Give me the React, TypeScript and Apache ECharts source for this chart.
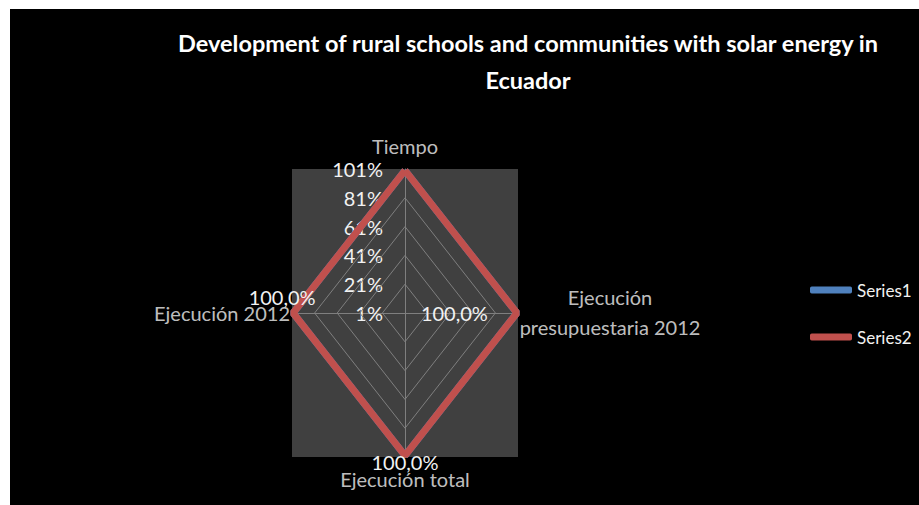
import React, { useEffect, useRef } from "react";
import * as echarts from "echarts";

const titleText = "Development of rural schools and communities with solar energy in\nEcuador";
const indicators = ["Tiempo", "Ejecución\npresupuestaria 2012", "Ejecución total", "Ejecución 2012"];
const seriesNames = ["Series1", "Series2"];
const series1Values = [100, 100, 100, 100];
const series2Values = [100, 100, 100, 100];
const dataLabels = ["", "100,0%", "100,0%", "100,0%"];
const tickValues = [1, 21, 41, 61, 81, 101];

const AXIS_MIN = 1;
const AXIS_MAX = 101;
// directions of the four radar spokes: up, right, down, left
const DIR = [
  [0, 1],
  [1, 0],
  [0, -1],
  [-1, 0],
];
const FONT = "Lato, 'Open Sans', sans-serif";
const TXT = "#f2f2f2";

const toPoint = (i: number, v: number) => [DIR[i][0] * (v - AXIS_MIN), DIR[i][1] * (v - AXIS_MIN)];

export default function App() {
  const ref = useRef<HTMLDivElement>(null);
  useEffect(() => {
    if (!ref.current) return;
    const chart = echarts.init(ref.current, null, { renderer: "svg" });
    const R = AXIS_MAX - AXIS_MIN;

    const ringSeries = tickValues
      .filter((t) => t > AXIS_MIN && t < AXIS_MAX)
      .map((t) => ({
        type: "line",
        silent: true,
        symbol: "none",
        z: 1,
        lineStyle: { color: "#7f7f7f", width: 1 },
        data: [0, 1, 2, 3, 0].map((i) => toPoint(i, t)),
      }));

    const polygon = (vals: number[]) => [0, 1, 2, 3, 0].map((i) => toPoint(i, vals[i]));

    const labelCfg: any[] = [
      { show: false },
      { show: true, position: "left", distance: 29 },
      { show: true, position: "inside", offset: [0, 6] },
      { show: true, position: "inside", offset: [-11, -16] },
    ];

    const s2data = [0, 1, 2, 3, 0].map((i, k) => ({
      value: toPoint(i, series2Values[i]),
      label: k < 4 ? { ...labelCfg[i], formatter: dataLabels[i] } : { show: false },
    }));

    const indLabel: any[] = [
      { position: "top", distance: 13 },
      { position: "inside", offset: [92, -1], lineHeight: 30, align: "center" },
      { position: "bottom", distance: 12 },
      { position: "left", distance: 2 },
    ];
    const indData = indicators.map((name, i) => ({
      value: toPoint(i, AXIS_MAX),
      label: { show: true, formatter: name, ...indLabel[i] },
    }));

    chart.setOption({
      animation: false,
      backgroundColor: "#000000",
      textStyle: { fontFamily: FONT },
      graphic: [
        {
          type: "text",
          x: 518,
          y: 15,
          style: {
            text: titleText,
            fill: "#ffffff",
            font: `bold 23.5px ${FONT}`,
            textAlign: "center",
            lineHeight: 37,
          },
        },
      ],
      legend: {
        orient: "vertical",
        left: 795,
        top: 266,
        itemGap: 27,
        itemWidth: 42,
        itemHeight: 7,
        icon: "roundRect",
        data: seriesNames,
        textStyle: { color: TXT, fontSize: 17, lineHeight: 20, fontFamily: FONT },
      },
      grid: {
        left: 282,
        top: 160,
        width: 226,
        height: 288,
        show: true,
        backgroundColor: "#404040",
        borderWidth: 0,
      },
      xAxis: {
        type: "value",
        min: -R,
        max: R,
        interval: 20,
        axisLine: { show: true, onZero: true, lineStyle: { color: "#7f7f7f", width: 1 } },
        axisTick: { show: false },
        axisLabel: { show: false },
        splitLine: { show: false },
      },
      yAxis: {
        type: "value",
        min: -R,
        max: R,
        interval: 20,
        axisLine: { show: true, onZero: true, lineStyle: { color: "#7f7f7f", width: 1 } },
        axisTick: { show: false },
        splitLine: { show: false },
        axisLabel: {
          show: true,
          margin: -91,
          color: TXT,
          fontSize: 20,
          fontFamily: FONT,
          formatter: (v: number) => (v >= 0 ? `${v + AXIS_MIN}%` : ""),
        },
      },
      series: [
        ...ringSeries,
        {
          name: seriesNames[0],
          type: "line",
          symbol: "none",
          z: 3,
          color: "#4F81BD",
          lineStyle: { color: "#4F81BD", width: 7 },
          data: polygon(series1Values),
        },
        {
          name: seriesNames[1],
          type: "line",
          symbol: "circle",
          symbolSize: 0,
          showSymbol: true,
          z: 4,
          color: "#C0504D",
          lineStyle: { color: "#C0504D", width: 7 },
          label: { color: TXT, fontSize: 20, fontFamily: FONT },
          data: s2data,
        },
        {
          name: "indicators",
          type: "scatter",
          symbolSize: 0,
          silent: true,
          z: 5,
          label: { color: TXT, fontSize: 20, fontFamily: FONT },
          data: indData,
        },
      ],
    });
    return () => chart.dispose();
  }, []);

  return (
    <div style={{ position: "fixed", left: 0, top: 0, width: 919, height: 505, background: "#ffffff" }}>
      <div ref={ref} style={{ position: "absolute", left: 10, top: 9, width: 909, height: 496 }} />
    </div>
  );
}
